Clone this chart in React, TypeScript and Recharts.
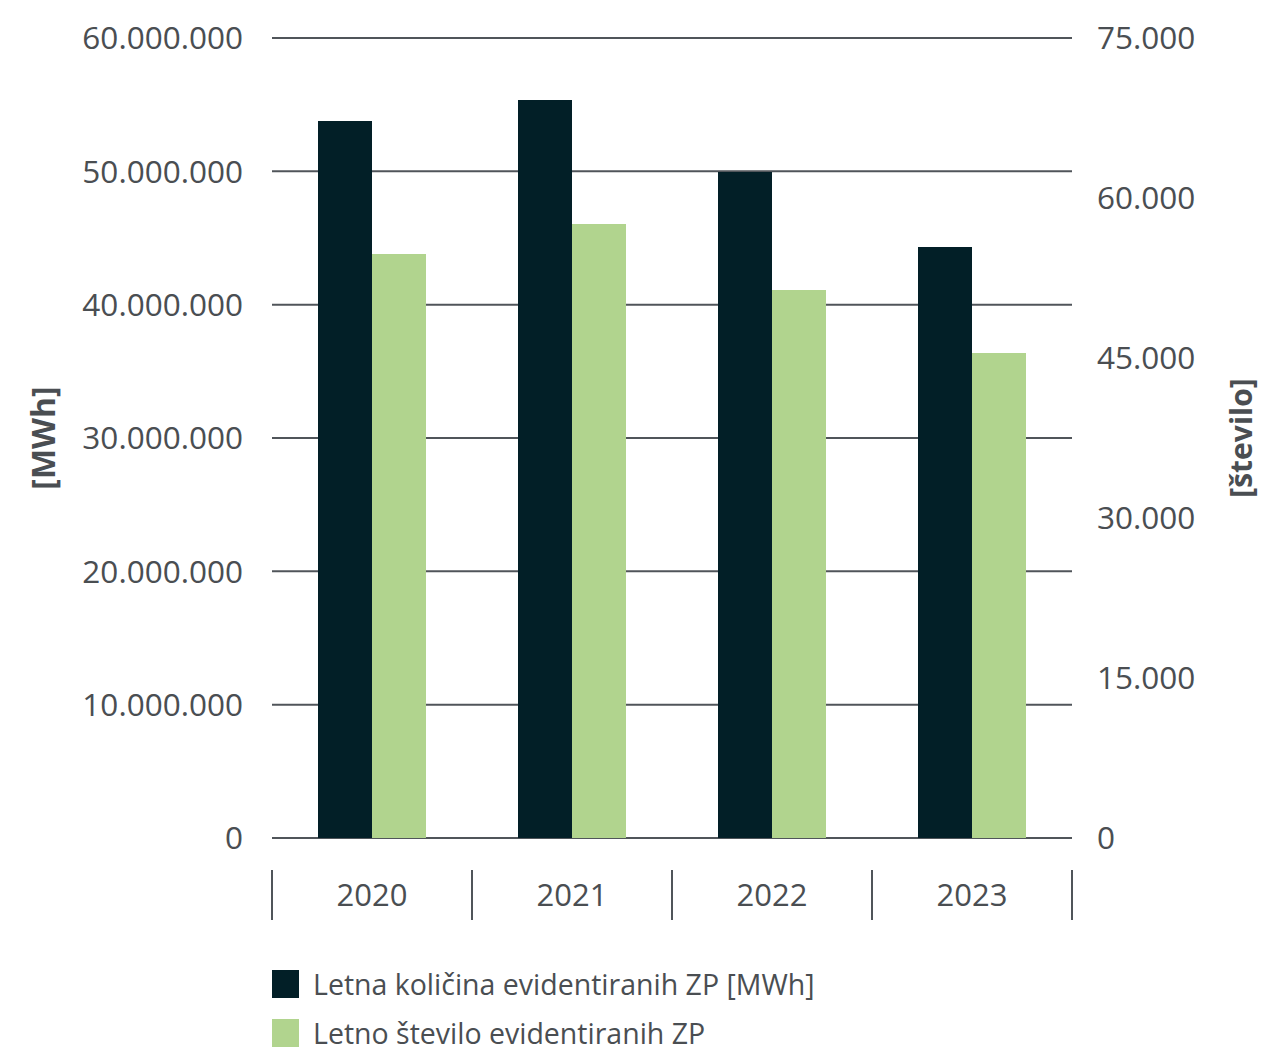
import { BarChart, Bar, XAxis, YAxis, CartesianGrid } from 'recharts';

const years = ['2020', '2021', '2022', '2023'];
const energyMWh = [53775000, 55350000, 49950000, 44325000];
const countZP = [54750, 57560, 51375, 45470];
const leftTicks = [0, 10000000, 20000000, 30000000, 40000000, 50000000, 60000000];
const rightTicks = [0, 15000, 30000, 45000, 60000, 75000];
const seriesNames = ['Letna količina evidentiranih ZP [MWh]', 'Letno število evidentiranih ZP'];

const DARK = '#021f27';
const GREEN = '#b1d48e';
const TEXT = '#4a4e52';
const LINE = '#50555a';
const FONT = '"Open Sans", sans-serif';

const data = years.map((year, i) => ({ year, energy: energyMWh[i], count: countZP[i] }));

const fmt = (v: number) => v.toLocaleString('de-DE');

function YearTick(props: any) {
  const { x, y, payload } = props;
  const half = payload?.offset ?? 100;
  return (
    <g>
      <line x1={x - half} x2={x - half} y1={y + 30} y2={y + 80} stroke={LINE} strokeWidth={2} />
      <line x1={x + half} x2={x + half} y1={y + 30} y2={y + 80} stroke={LINE} strokeWidth={2} />
      <text x={x} y={y + 54} textAnchor="middle" dominantBaseline="central" fill={TEXT} fontSize={31} fontFamily={FONT}>
        {payload.value}
      </text>
    </g>
  );
}

function SideLabel({ viewBox, value, dx, size }: any) {
  const cx = viewBox.x + dx;
  const cy = viewBox.y + viewBox.height / 2;
  return (
    <text
      x={cx}
      y={cy}
      transform={`rotate(-90, ${cx}, ${cy})`}
      textAnchor="middle"
      dominantBaseline="central"
      fill={TEXT}
      fontSize={size}
      fontWeight={700}
      fontFamily={FONT}
    >
      {value}
    </text>
  );
}

export default function App() {
  return (
    <div style={{ position: 'absolute', left: 0, top: 0, width: 1261, height: 1050, background: '#fff' }}>
      <BarChart
        width={1261}
        height={930}
        data={data}
        margin={{ top: 38, right: 0, bottom: 10, left: 0 }}
        barCategoryGap="23%"
        barGap={0}
      >
        <CartesianGrid yAxisId="left" vertical={false} stroke={LINE} strokeWidth={2} />
        <XAxis
          dataKey="year"
          axisLine={false}
          tickLine={false}
          tickSize={0}
          height={82}
          tick={<YearTick />}
          interval={0}
        />
        <YAxis
          yAxisId="left"
          orientation="left"
          width={272}
          domain={[0, 60000000]}
          ticks={leftTicks}
          tickFormatter={fmt}
          axisLine={false}
          tickLine={false}
          tickSize={0}
          tickMargin={29}
          tick={{ fill: TEXT, fontSize: 31.5, fontFamily: FONT }}
          label={<SideLabel value="[MWh]" dx={42} size={32} />}
        />
        <YAxis
          yAxisId="right"
          orientation="right"
          width={189}
          domain={[0, 75000]}
          ticks={rightTicks}
          tickFormatter={fmt}
          axisLine={false}
          tickLine={false}
          tickSize={0}
          tickMargin={25}
          tick={{ fill: TEXT, fontSize: 31.5, fontFamily: FONT }}
          label={<SideLabel value="[število]" dx={168} size={30} />}
        />
        <Bar yAxisId="left" dataKey="energy" fill={DARK} isAnimationActive={false} />
        <Bar yAxisId="right" dataKey="count" fill={GREEN} isAnimationActive={false} />
      </BarChart>
      <div style={{ position: 'absolute', left: 272, top: 969, fontFamily: FONT, color: TEXT, fontSize: 28.5, lineHeight: 1 }}>
        {seriesNames.map((name, i) => (
          <div key={name} style={{ display: 'flex', alignItems: 'center', height: 30, marginTop: i === 0 ? 0 : 19 }}>
            <span style={{ width: 27, height: 28, background: i === 0 ? DARK : GREEN, marginRight: 14 }} />
            <span>{name}</span>
          </div>
        ))}
      </div>
    </div>
  );
}
